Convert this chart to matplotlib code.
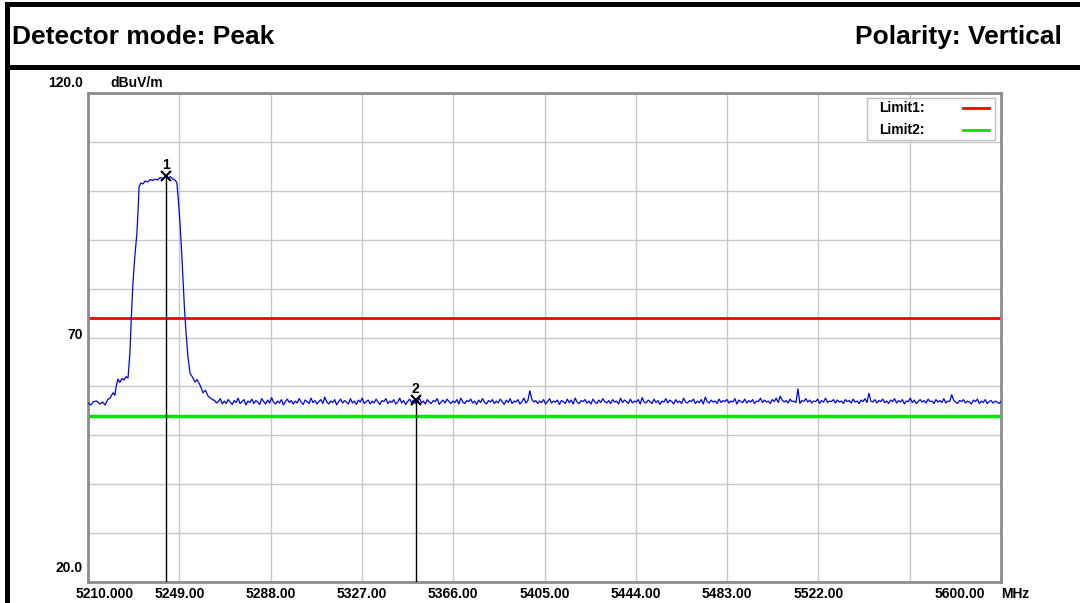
"""
Radiated emission scan, 5210-5600 MHz, peak detector, vertical polarity
"""

import numpy as np
import matplotlib

matplotlib.use("Agg")
import matplotlib.pyplot as plt
from matplotlib.patches import Rectangle
from matplotlib.lines import Line2D

W, H = 1080, 603

# trace around the carrier (MHz, dBuV/m)
sig_freq = [5210.0, 5211.2, 5212.3, 5213.8, 5215.0, 5216.2, 5217.3, 5218.4, 5219.4, 5220.7,
            5221.5, 5222.0, 5222.8, 5223.6, 5224.5, 5225.4, 5226.3, 5227.1, 5227.9, 5228.5,
            5229.2, 5230.0, 5230.9, 5231.4, 5231.8, 5232.6, 5233.5, 5234.4, 5235.5, 5236.6,
            5237.6, 5238.6, 5239.7, 5240.8, 5241.9, 5243.3, 5244.2, 5245.2, 5246.2, 5247.2,
            5248.0, 5248.6, 5249.3, 5250.0, 5250.6, 5251.2, 5251.9, 5252.7, 5253.6, 5254.5,
            5255.7, 5256.6, 5257.8, 5258.5, 5259.1, 5260.2, 5261.3, 5262.4, 5263.4]
sig_level = [56.6, 56.2, 56.9, 57.0, 56.4, 56.8, 56.2, 57.3, 57.6, 58.7,
             58.2, 59.9, 61.5, 60.8, 61.6, 61.3, 62.0, 61.7, 66.8, 74.0,
             81.1, 86.5, 91.4, 96.0, 100.8, 101.6, 101.4, 102.0, 101.8, 102.3,
             102.1, 102.4, 102.2, 102.7, 102.5, 103.0, 102.6, 102.9, 102.4, 102.2,
             101.6, 98.0, 93.4, 87.5, 81.8, 76.0, 70.9, 66.0, 62.7, 62.0,
             60.9, 61.4, 60.3, 59.5, 58.7, 59.2, 58.0, 57.6, 57.2]

# noise floor, swept evenly from 5264 to 5600 MHz
floor_start, floor_stop = 5264.0, 5600.0
floor_level = [
    57.2, 56.6, 56.9, 57.5, 56.4, 57.0, 56.5, 57.3, 56.8, 56.3, 57.1, 56.7, 57.6, 56.5, 56.9, 57.3, 56.2, 57.0, 56.7, 57.4,
    56.5, 57.1, 56.8, 56.3, 57.5, 56.9, 56.4, 57.2, 56.6, 57.7, 56.8, 56.4, 57.0, 56.6, 57.3, 56.2, 56.9, 57.4, 56.7, 57.1,
    56.4, 57.0, 56.6, 57.5, 56.8, 56.3, 57.2, 56.9, 56.5, 57.6, 56.7, 57.1, 56.4, 56.9, 57.3, 56.5, 57.8, 56.8, 56.4, 57.0,
    56.7, 57.3, 56.2, 56.9, 57.4, 56.6, 57.1, 56.8, 56.4, 57.5, 56.6, 57.0, 56.3, 57.2, 56.8, 57.6, 56.5, 56.9, 57.2, 56.4,
    57.0, 56.6, 57.4, 56.8, 56.3, 57.1, 56.9, 57.5, 56.5, 57.0, 56.7, 57.3, 56.4, 56.8, 57.6, 56.6, 57.1, 56.3, 56.9, 57.4,
    56.7, 57.2, 56.5, 56.9, 57.7, 56.6, 57.0, 56.4, 57.3, 56.8, 56.5, 57.1, 56.9, 57.5, 56.3, 56.8, 57.2, 56.6, 57.4, 56.9,
    56.5, 57.0, 56.7, 57.3, 56.4, 57.6, 56.8, 56.5, 57.1, 56.9, 57.4, 56.6, 57.0, 56.3, 57.2, 56.7, 57.5, 56.8, 56.4, 57.1,
    56.8, 57.3, 56.5, 57.0, 56.6, 57.4, 56.9, 56.3, 57.2, 56.7, 57.5, 56.5, 57.0, 56.8, 57.3, 56.4, 56.9, 57.6, 56.6, 57.1,
    59.1, 57.4, 56.8, 57.1, 56.5, 57.0, 56.7, 57.3, 56.4, 56.9, 57.5, 56.6, 57.0, 56.8, 57.2, 56.3, 57.1, 56.9, 56.5, 57.4,
    56.7, 57.2, 56.4, 57.6, 56.8, 56.5, 57.1, 56.9, 57.3, 56.6, 57.0, 56.4, 57.4, 56.8, 56.5, 57.2, 56.7, 57.5, 56.9, 56.6,
    57.1, 56.5, 57.3, 56.8, 57.0, 56.4, 57.6, 56.7, 57.2, 56.9, 56.5, 57.4, 56.6, 57.0, 56.8, 57.3, 56.4, 57.7, 56.8, 56.6,
    57.2, 56.9, 56.5, 57.4, 56.7, 57.1, 56.3, 57.0, 56.8, 57.5, 56.6, 57.2, 56.9, 56.4, 57.3, 56.7, 57.0, 56.5, 57.6, 56.8,
    56.6, 57.1, 56.9, 57.4, 56.5, 57.0, 56.7, 57.3, 56.4, 57.8, 56.9, 56.6, 57.2, 56.8, 57.0, 56.5, 57.4, 56.7, 57.1, 56.9,
    57.3, 56.6, 57.0, 56.8, 57.5, 56.4, 57.2, 56.9, 56.7, 57.4, 56.6, 57.1, 56.8, 57.3, 56.5, 57.0, 56.9, 57.6, 56.7, 57.2,
    56.8, 57.0, 56.5, 57.3, 56.9, 57.6, 56.7, 58.0, 57.2, 56.8, 57.1, 56.6, 57.4, 56.9, 57.0, 56.7, 59.5, 56.5, 57.1, 56.9,
    57.5, 56.8, 57.2, 56.6, 57.0, 56.9, 57.4, 56.5, 57.1, 56.8, 57.6, 56.7, 57.0, 56.9, 57.3, 56.6, 57.2, 56.8, 57.0, 56.5,
    57.3, 56.9, 57.1, 56.6, 57.4, 56.8, 57.0, 56.5, 57.2, 56.9, 57.5, 56.7, 58.6, 57.0, 56.8, 57.3, 56.6, 57.1, 56.9, 57.4,
    56.7, 57.0, 56.5, 57.2, 56.9, 57.5, 56.6, 57.1, 56.8, 57.3, 56.4, 57.0, 56.9, 57.6, 56.7, 57.2, 56.5, 56.9, 57.3, 56.8,
    57.1, 56.6, 57.4, 56.9, 57.0, 56.5, 57.3, 56.8, 57.1, 56.7, 57.5, 56.6, 57.0, 56.9, 58.3, 57.2, 56.8, 56.5, 57.1, 56.9,
    57.3, 56.6, 57.0, 56.8, 56.4, 57.2, 56.9, 57.4, 56.5, 57.0, 56.7, 57.3, 56.5, 56.9, 57.1, 56.6, 57.0, 56.8, 56.5, 56.9,
]

limit1 = 74.0
limit2 = 54.0

marker_freq = [5243.3, 5350.0]
marker_level = [103.0, 57.2]
marker_names = ["1", "2"]

xtick_vals = [5210, 5249, 5288, 5327, 5366, 5405, 5444, 5483, 5522, 5600]
xtick_labels = ["5210.000", "5249.00", "5288.00", "5327.00", "5366.00",
                "5405.00", "5444.00", "5483.00", "5522.00", "5600.00"]
ytick_vals = [120, 70, 20]
ytick_labels = ["120.0", "70", "20.0"]

small = dict(family=["Liberation Sans", "DejaVu Sans"], weight="bold", size=10)
big = dict(family=["Liberation Sans", "DejaVu Sans"], weight="bold", size=19)

fig = plt.figure(figsize=(W / 100, H / 100), dpi=100)


def fig_rect(x0, y0, x1, y1):
    # pixel box (top-left origin) -> black filled rectangle in figure coords
    fig.add_artist(Rectangle((x0 / W, 1 - y1 / H), (x1 - x0) / W, (y1 - y0) / H,
                             transform=fig.transFigure, color="black", lw=0))


fig_rect(5, 2, W, 7)
fig_rect(5, 65, W, 70)
fig_rect(5, 2, 10, H)
fig.text(12 / W, 1 - 37 / H, "Detector mode: Peak", va="center", ha="left", **big)
fig.text(1062 / W, 1 - 37 / H, "Polarity: Vertical", va="center", ha="right", **big)

ax = fig.add_axes([88 / W, 1 - 582 / H, 913 / W, 489 / H])
ax.set_xlim(5210, 5600)
ax.set_ylim(20, 120)
ax.set_xticks(np.arange(5210, 5601, 39))
ax.set_yticks(np.arange(20, 121, 10))
ax.tick_params(length=0, labelbottom=False, labelleft=False)
ax.grid(True, color="#c8c8c8", lw=1)
ax.set_axisbelow(True)
for s in ax.spines.values():
    s.set_color("#8c8c8c")
    s.set_linewidth(2)

floor_freq = np.linspace(floor_start, floor_stop, len(floor_level))
freq = np.concatenate([sig_freq, floor_freq])
level = np.concatenate([sig_level, floor_level])
ax.plot(freq, level, color="#0000ff", lw=0.9, zorder=3)

ax.axhline(limit1, color="#ff0000", lw=2, zorder=2)
ax.axhline(limit2, color="#00e600", lw=2.5, zorder=2)

for f, lv, name in zip(marker_freq, marker_level, marker_names):
    ax.plot([f, f], [20, lv], color="black", lw=1, zorder=4)
    ax.plot(f, lv, marker="x", color="black", ms=7, mew=1.5, zorder=5)
    ax.annotate(name, xy=(f, lv), xytext=(0, 11), textcoords="offset pixels",
                ha="center", va="center", **small)

# tick labels as the analyser software places them
xt = ax.get_xaxis_transform()
x_shift = [17, 0, 0, 0, 0, 0, 0, 0, 0, -41]
for v, lab, dx in zip(xtick_vals, xtick_labels, x_shift):
    ax.annotate(lab, xy=(v, 0), xycoords=xt, xytext=(dx, -12), textcoords="offset pixels",
                ha="center", va="center", annotation_clip=False, **small)
ax.annotate("MHz", xy=(1, 0), xycoords="axes fraction", xytext=(0, -12),
            textcoords="offset pixels", ha="left", va="center", **small)

yt = ax.get_yaxis_transform()
y_shift = [10, 3, 14]
for v, lab, dy in zip(ytick_vals, ytick_labels, y_shift):
    ax.annotate(lab, xy=(0, v), xycoords=yt, xytext=(-5, dy), textcoords="offset pixels",
                ha="right", va="center", annotation_clip=False, **small)
ax.annotate("dBuV/m", xy=(0, 1), xycoords="axes fraction", xytext=(22, 10),
            textcoords="offset pixels", ha="left", va="center", **small)

# legend box
ax.add_patch(Rectangle((0.853, 0.904), 0.140, 0.086, transform=ax.transAxes,
                       facecolor="white", edgecolor="#c0c0c0", lw=1, zorder=6))
for yy, name, col in [(0.969, "Limit1:", "#ff0000"), (0.924, "Limit2:", "#00e600")]:
    ax.text(0.866, yy, name, transform=ax.transAxes, ha="left", va="center", zorder=7, **small)
    ax.add_line(Line2D([0.958, 0.987], [yy, yy], transform=ax.transAxes, color=col,
                       lw=2, zorder=7))

fig.savefig("out.png", dpi=100)
